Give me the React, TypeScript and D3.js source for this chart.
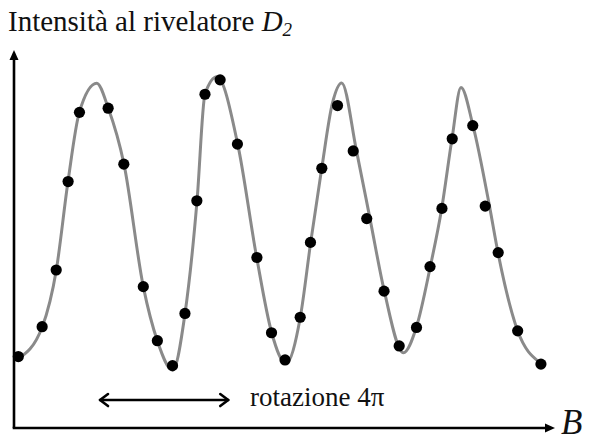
import React from "react";
import * as d3 from "d3";

// Measured intensity at detector D2 versus field B (arbitrary units)
const pointB = [
  0.8, 5.2, 7.8, 10.0, 12.1, 17.4, 20.3, 23.9, 26.5, 29.3, 31.6, 33.8,
  35.3, 38.1, 41.3, 44.9, 47.6, 50.1, 52.9, 54.8, 56.9, 59.8, 62.7, 65.2,
  68.4, 71.2, 74.4, 76.9, 79.1, 81.0, 84.8, 87.1, 89.5, 93.1, 97.4,
];
const pointI = [
  18.9, 26.8, 41.8, 65.2, 83.5, 84.6, 69.8, 37.4, 23.1, 16.5, 30.3, 60.1,
  88.3, 92.1, 75.1, 45.1, 25.2, 18.0, 29.3, 49.1, 68.7, 85.3, 73.3, 55.4,
  36.2, 21.7, 26.6, 42.7, 58.1, 76.5, 80.0, 58.7, 46.4, 25.7, 16.9,
];

// Knots of the smooth fitted curve
const curveB = [
  0.74, 5.23, 7.82, 9.98, 12.07, 15.29, 17.43, 20.33, 23.9, 26.49, 29.33,
  31.61, 33.83, 35.3, 37.52, 41.35, 44.86, 47.63, 50.28, 52.92, 54.84,
  56.88, 58.87, 60.57, 63.31, 65.8, 68.45, 71.97, 74.36, 76.95, 79.06,
  80.96, 82.62, 84.84, 87.89, 89.46, 93.1, 97.04,
];
const curveI = [
  18.3, 26.8, 41.8, 65.2, 83.5, 91.2, 84.6, 69.8, 37.4, 23.1, 15.3, 30.3,
  60.1, 88.3, 92.9, 75.1, 45.1, 25.2, 17.1, 29.3, 49.1, 68.7, 86.0, 91.3,
  73.3, 55.4, 36.2, 19.9, 26.6, 42.7, 58.1, 76.5, 90.1, 80.0, 58.7, 46.4,
  25.7, 17.5,
];

// Span marked by the double arrow (one 4π rotation)
const spanB = [15.9, 39.6];
const spanLevel = 7.4;

const W = 592;
const H = 443;

export default function App() {
  const x = d3.scaleLinear().domain([0, 100]).range([14, 555]);
  const y = d3.scaleLinear().domain([0, 100]).range([428, 50]);

  const line = d3
    .line<number>()
    .x((_, i) => x(curveB[i]))
    .y((d) => y(d))
    .curve(d3.curveMonotoneX);

  const x0 = x(0);
  const y0 = y(0);
  const yTop = y(100);
  const xEnd = x(100);

  const ax1 = x(spanB[0]);
  const ax2 = x(spanB[1]);
  const ay = y(spanLevel);

  return (
    <svg
      width={W}
      height={H}
      style={{ position: "absolute", left: 0, top: 0, background: "#fff" }}
      fontFamily="'Liberation Serif', 'Times New Roman', serif"
    >
      <text x={8} y={31} fontSize={29} fill="#111">
        Intensità al rivelatore{" "}
        <tspan fontStyle="italic">D</tspan>
        <tspan fontStyle="italic" fontSize={19} dy={5}>2</tspan>
      </text>

      {/* axes */}
      <line x1={x0} y1={y0} x2={x0} y2={yTop + 8} stroke="#000" strokeWidth={2.6} />
      <path d={`M${x0 - 4.5},${yTop + 10} L${x0},${yTop} L${x0 + 4.5},${yTop + 10} Z`} fill="#000" />
      <line x1={x0 - 1.3} y1={y0} x2={xEnd - 8} y2={y0} stroke="#000" strokeWidth={2.6} />
      <path d={`M${xEnd - 10},${y0 - 4.5} L${xEnd},${y0} L${xEnd - 10},${y0 + 4.5} Z`} fill="#000" />
      <text x={561} y={434} fontSize={35} fontStyle="italic" fill="#111">B</text>

      {/* fitted curve */}
      <path d={line(curveI) ?? ""} fill="none" stroke="#8a8a8a" strokeWidth={3} />

      {/* measurements */}
      {pointI.map((v, i) => (
        <circle key={i} cx={x(pointB[i])} cy={y(v)} r={5.6} fill="#000" />
      ))}

      {/* rotation span */}
      <g stroke="#000" strokeWidth={2.6} fill="none" strokeLinecap="round" strokeLinejoin="round">
        <line x1={ax1} y1={ay} x2={ax2} y2={ay} />
        <path d={`M${ax1 + 8},${ay - 6} L${ax1},${ay} L${ax1 + 8},${ay + 6}`} />
        <path d={`M${ax2 - 8},${ay - 6} L${ax2},${ay} L${ax2 - 8},${ay + 6}`} />
      </g>
      <text x={250} y={406} fontSize={27} fill="#111">rotazione 4π</text>
    </svg>
  );
}
